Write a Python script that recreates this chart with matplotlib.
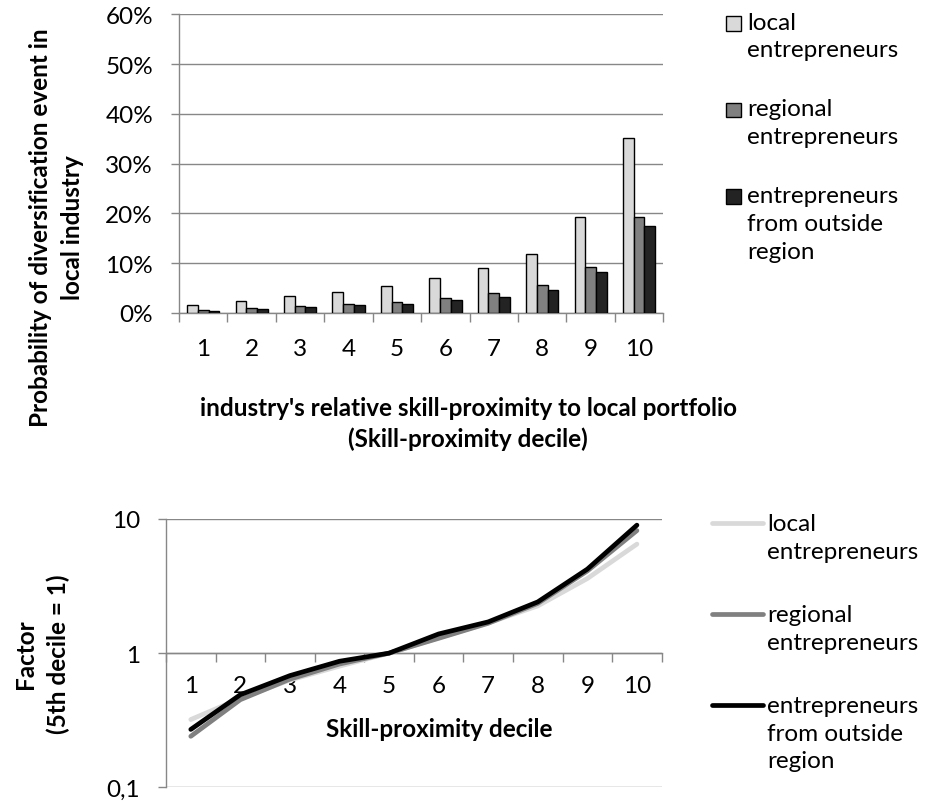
import numpy as np
import matplotlib
matplotlib.use('Agg')
import matplotlib.pyplot as plt
from matplotlib.patches import Rectangle
from matplotlib.lines import Line2D
from matplotlib.ticker import FixedLocator, FixedFormatter, NullLocator

plt.rcParams['font.family'] = ['Lato', 'DejaVu Sans']
FS = 17.5
plt.rcParams['font.size'] = FS

# data
deciles = np.arange(1, 11)
decile_labels = [str(d) for d in deciles]
series_names = ['local\nentrepreneurs', 'regional\nentrepreneurs',
                'entrepreneurs\nfrom outside\nregion']

# probability of a diversification event (%)
prob_local = [1.7, 2.5, 3.4, 4.3, 5.4, 7.0, 9.1, 11.9, 19.3, 35.2]
prob_regional = [0.6, 1.0, 1.5, 1.9, 2.3, 3.0, 4.0, 5.6, 9.3, 19.3]
prob_outside = [0.5, 0.9, 1.3, 1.7, 1.9, 2.7, 3.3, 4.7, 8.3, 17.5]
pct_ticks = [0, 10, 20, 30, 40, 50, 60]

# factor relative to the 5th decile (log scale)
factor_local = [0.32, 0.46, 0.63, 0.80, 1.0, 1.30, 1.68, 2.25, 3.6, 6.5]
factor_regional = [0.24, 0.45, 0.64, 0.83, 1.0, 1.29, 1.67, 2.35, 4.1, 8.2]
factor_outside = [0.27, 0.49, 0.68, 0.87, 1.0, 1.39, 1.71, 2.41, 4.23, 9.0]
factor_ticks = [0.1, 1, 10]
factor_tick_labels = ['0,1', '1', '10']

bar_colors = ['#d9d9d9', '#808080', '#232323']
line_colors = ['#d9d9d9', '#808080', '#000000']
gray = '#878787'

W, H = 951, 803
fig = plt.figure(figsize=(W / 100, H / 100), dpi=100)


def fx(px):
    return px / W


def fy(py):
    return 1 - py / H


def style_axes(ax):
    for s in ['top', 'right']:
        ax.spines[s].set_visible(False)
    for s in ['left', 'bottom']:
        ax.spines[s].set_color(gray)
        ax.spines[s].set_linewidth(1.0)
    ax.set_axisbelow(True)
    ax.grid(axis='y', color=gray, lw=1.0)
    ax.set_xlim(0.5, 10.5)
    ax.set_xticks(deciles)
    ax.set_xticklabels(decile_labels)
    ax.set_xticks(np.arange(0.5, 11, 1), minor=True)
    ax.tick_params(axis='x', which='minor', length=6.5, color=gray, width=1.0)
    ax.tick_params(axis='y', which='major', length=6, color=gray, width=1.0, pad=12.7)


# top: bar chart
ax1 = fig.add_axes([fx(179), fy(314), fx(663.3) - fx(179), fy(15.3) - fy(314)])
style_axes(ax1)
bar_w = 1 / 4.5
prob_series = [prob_local, prob_regional, prob_outside]
for i, (vals, col) in enumerate(zip(prob_series, bar_colors)):
    ax1.bar(deciles + (i - 1) * bar_w, vals, width=bar_w, color=col,
            edgecolor='black', linewidth=1.0, zorder=3)
ax1.set_ylim(0, 60)
ax1.set_yticks(pct_ticks)
ax1.set_yticklabels([f'{t}%' for t in pct_ticks])
ax1.tick_params(axis='x', which='major', length=0, pad=18)
ax1.set_xlabel("industry's relative skill-proximity to local portfolio\n(Skill-proximity decile)",
              fontweight='bold', linespacing=1.37)
ax1.xaxis.set_label_coords(0.597, -0.279)
ax1.set_ylabel('Probability of diversification event in\nlocal industry',
               fontweight='bold', linespacing=1.47)
ax1.yaxis.set_label_coords(-0.197, 0.29)

# bottom: factor lines
ax2 = fig.add_axes([fx(166), fy(788.3), fx(661.7) - fx(166), fy(520) - fy(788.3)])
ax2.set_yscale('log')
style_axes(ax2)
factor_series = [factor_local, factor_regional, factor_outside]
for vals, col in zip(factor_series, line_colors):
    ax2.plot(deciles, vals, color=col, lw=3.4, solid_capstyle='round',
             solid_joinstyle='round', zorder=3)
ax2.set_ylim(0.1, 10)
ax2.yaxis.set_major_locator(FixedLocator(factor_ticks))
ax2.yaxis.set_major_formatter(FixedFormatter(factor_tick_labels))
ax2.yaxis.set_minor_locator(NullLocator())
ax2.spines['bottom'].set_position(('data', 1))
ax2.tick_params(axis='x', which='major', length=0, pad=16)
ax2.set_xlabel('Skill-proximity decile', fontweight='bold')
ax2.xaxis.set_label_coords(0.552, 0.263)
ax2.set_ylabel('Factor\n(5th decile = 1)', fontweight='bold', linespacing=1.47)
ax2.yaxis.set_label_coords(-0.194, 0.5)

# legends drawn by hand so the key sits on the first text line
ASC = 19.1  # first-line ascent in px at this font size
for i, (name, col) in enumerate(zip(series_names, bar_colors)):
    base = 31.7 + i * 86.7
    fig.add_artist(Rectangle((fx(725.7), fy(base)), fx(741) - fx(725.7),
                             fy(base - 14.7) - fy(base), facecolor=col,
                             edgecolor='black', lw=1.0, transform=fig.transFigure))
    fig.text(fx(747), fy(base - ASC), name, va='top', ha='left', linespacing=1.4)

for i, (name, col) in enumerate(zip(series_names, line_colors)):
    base = 533.3 + i * 90.8
    fig.add_artist(Line2D([fx(712), fx(763)], [fy(base - 9)] * 2, color=col, lw=3.4,
                          solid_capstyle='round', transform=fig.transFigure))
    fig.text(fx(767.3), fy(base - ASC), name, va='top', ha='left', linespacing=1.4)

fig.savefig('out.png', dpi=100)
